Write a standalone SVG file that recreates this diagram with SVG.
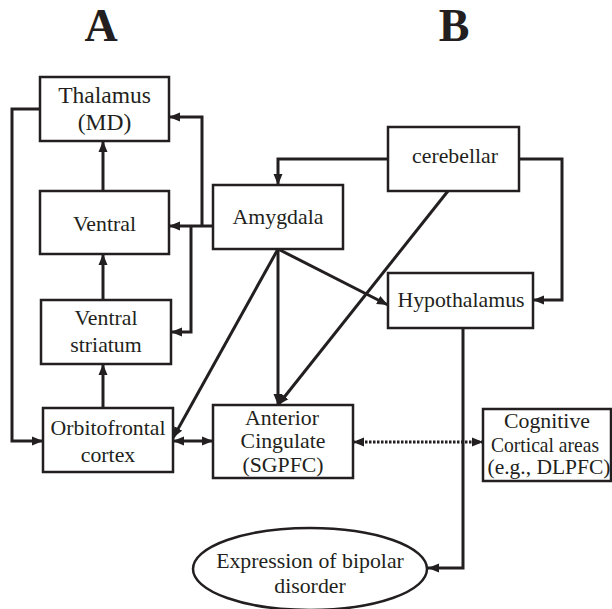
<svg xmlns="http://www.w3.org/2000/svg" width="612" height="609" viewBox="0 0 612 609">
<style>
.box{fill:#fff;stroke:#231f20;stroke-width:2.5}
.t{font-family:"Liberation Serif","Times New Roman",serif;font-size:21.8px;fill:#231f20;text-anchor:middle}
.lg{font-size:23.5px}
.big{font-family:"Liberation Serif","Times New Roman",serif;font-size:46px;font-weight:bold;fill:#231f20;text-anchor:middle}
.c{fill:none;stroke:#231f20;stroke-width:3}
.a{marker-end:url(#ah)}
.d{marker-start:url(#ah);marker-end:url(#ah)}
.dot{stroke-dasharray:2.5 1.5}
</style>
<defs>
<marker id="ah" markerUnits="userSpaceOnUse" markerWidth="12" markerHeight="10" refX="11" refY="5" orient="auto-start-reverse">
<path d="M0,0.5 L11,5 L0,9.5 z" fill="#231f20"/>
</marker>
</defs>
<rect width="612" height="609" fill="#fff"/>
<text class="big" x="101" y="41">A</text>
<text class="big" x="454" y="41">B</text>
<g id="connectors">
<path class="c a" d="M40,109 H12 V441 H43"/>
<path class="c a" d="M103,191 V141"/>
<path class="c a" d="M103,300 V254"/>
<path class="c a" d="M103,408 V364"/>
<path class="c a" d="M213,226 H169"/>
<path class="c a" d="M202,226 V117 H169"/>
<path class="c a" d="M191,226 V332 H171"/>
<path class="c a" d="M388,159 H278 V185"/>
<path class="c a" d="M519,159 H562 V300 H533"/>
<path class="c a" d="M448,191 L278,405"/>
<path class="c a" d="M278,249 V405"/>
<path class="c a" d="M278,249 L388,305"/>
<path class="c a" d="M278,249 L173,438"/>
<path class="c d" d="M173,441 H213"/>
<path class="c d dot" d="M353,442 H483"/>
<path class="c a" d="M463,328 V568 H428"/>
</g>
<g id="thalamus">
<rect class="box" x="40" y="77" width="129" height="64"/>
<text class="t lg" x="104.5" y="103">Thalamus</text>
<text class="t lg" x="104.5" y="130">(MD)</text>
</g>
<g id="ventral">
<rect class="box" x="40" y="191" width="129" height="63"/>
<text class="t" x="104.5" y="231">Ventral</text>
</g>
<g id="ventral-striatum">
<rect class="box" x="41" y="300" width="130" height="64"/>
<text class="t" x="106" y="325">Ventral</text>
<text class="t" x="106" y="352">striatum</text>
</g>
<g id="orbitofrontal">
<rect class="box" x="43" y="408" width="130" height="64"/>
<text class="t" x="108" y="435">Orbitofrontal</text>
<text class="t" x="108" y="462">cortex</text>
</g>
<g id="amygdala">
<rect class="box" x="213" y="185" width="130" height="64"/>
<text class="t" x="278" y="224">Amygdala</text>
</g>
<g id="cerebellar">
<rect class="box" x="388" y="127" width="131" height="64"/>
<text class="t" x="455" y="163">cerebellar</text>
</g>
<g id="hypothalamus">
<rect class="box" x="388" y="273" width="145" height="55"/>
<text class="t" x="461" y="307">Hypothalamus</text>
</g>
<g id="anterior-cingulate">
<rect class="box" x="213" y="405" width="140" height="73"/>
<text class="t" x="282" y="425">Anterior</text>
<text class="t" x="283" y="448">Cingulate</text>
<text class="t" x="283" y="472">(SGPFC)</text>
</g>
<g id="cognitive">
<rect class="box" x="483" y="409" width="128" height="72"/>
<text class="t" x="547" y="428">Cognitive</text>
<text class="t" x="545" y="452" textLength="108" lengthAdjust="spacingAndGlyphs">Cortical areas</text>
<text class="t" x="549" y="474" textLength="123" lengthAdjust="spacingAndGlyphs">(e.g., DLPFC)</text>
</g>
<g id="expression">
<ellipse class="box" cx="310" cy="569" rx="117" ry="41"/>
<text class="t" x="310" y="568">Expression of bipolar</text>
<text class="t" x="310" y="593">disorder</text>
</g>
</svg>
